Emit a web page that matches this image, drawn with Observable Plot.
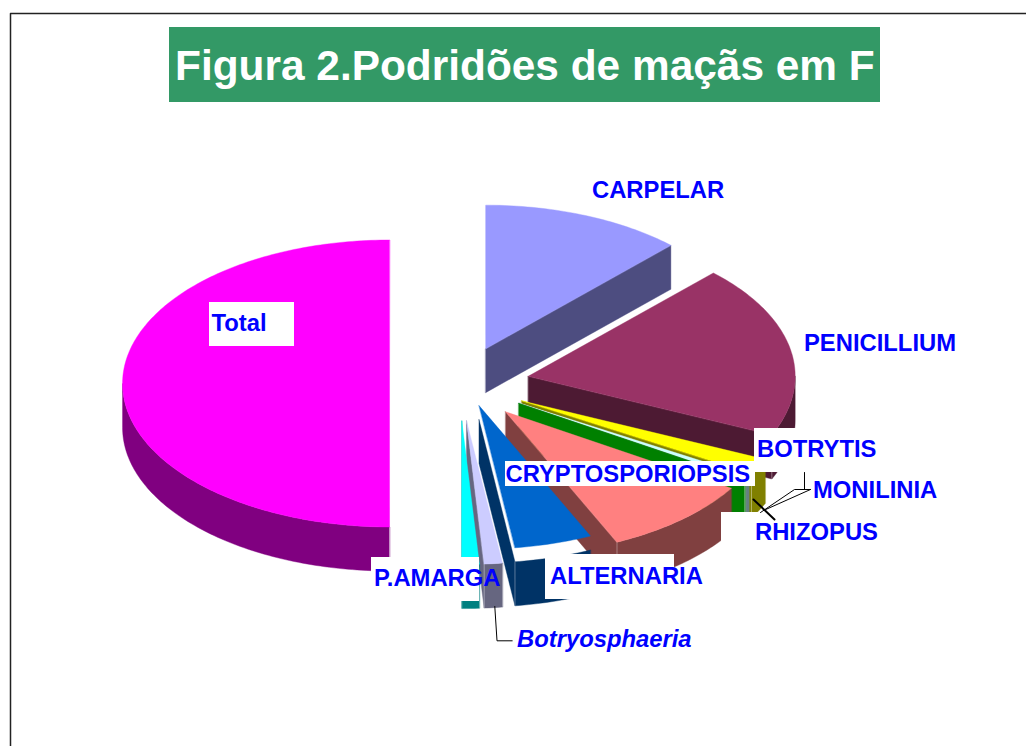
<!DOCTYPE html>
<html>
<head>
<meta charset="utf-8">
<style>html,body{margin:0;padding:0;background:#fff}svg{display:block}</style>
<script src="https://cdn.jsdelivr.net/npm/d3@7"></script>
<script src="https://cdn.jsdelivr.net/npm/@observablehq/plot@0.6"></script>
</head>
<body>
<div id="chart"></div>
<script>
// Slices, clockwise from 12 o'clock (share of the whole pie, %)
const names = ["CARPELAR","PENICILLIUM","BOTRYTIS","RHIZOPUS","MONILINIA","CRYPTOSPORIOPSIS","ALTERNARIA","Botryosphaeria","P.AMARGA","Total"];
const shares = [12.2,19.5,1.8,0.4,0.05,9.2,4.7,1.1,1.05,50];
const topColors = ["#9999FF","#993366","#FFFF00","#CCFFFF","#008000","#FF8080","#0066CC","#CCCCFF","#00FFFF","#FF00FF"];
const wallColors = ["#4D4D80","#4D1A33","#808000","#668080","#008000","#804040","#003366","#666680","#008080","#800080"];
const lifted = ["ALTERNARIA"];

// Chart text
const titleText = "Figura 2.Podridões de maçãs em F";
const labelTexts = ["CARPELAR","PENICILLIUM","BOTRYTIS","CRYPTOSPORIOPSIS","MONILINIA","RHIZOPUS","ALTERNARIA","P.AMARGA","Total","Botryosphaeria"];
const labelX = [591.5,803.5,756.5,505,812.5,754.5,549.5,373.5,211,516.5];
const labelY = [197,350,456,481,497,539,583,585,330,646];
// White label backgrounds [x1,x2,y1,y2]
const boxes = [[209,294,302,346],[754,885,428,472],[505,755,461,486],[721,885,512,552],[545,674,554,599],[371,479,557,601]];
// Leader lines
const leaders = [
  {w:1,pts:[[494.3,606],[496.5,640.3],[511.7,640.3]]},
  {w:1,pts:[[804,472],[804,489]]},
  {w:1,pts:[[810,489],[794,489],[760,512]]},
  {w:1,pts:[[810,489],[763,510]]},
  {w:2,pts:[[753,499],[774,519]]}
];

const W = 1026, H = 746;
const cx = 459, cy = 383, rx = 267, ry = 143.5;   // pie geometry
const explode = 0.262, depth = 44 / ry, lift = 14 / ry;
const X = p => (p - cx) / rx, Y = p => (p - cy) / ry;
const rad = d => d * Math.PI / 180;

const total = d3.sum(shares);
let acc = 0;
const slices = names.map((name, i) => {
  const a0 = acc; acc += shares[i] / total * 360; const a1 = acc;
  const mid = (a0 + a1) / 2;
  return {name, a0, a1, top: topColors[i], wall: wallColors[i],
          ax: explode * Math.sin(rad(mid)), ay: -explode * Math.cos(rad(mid)),
          lift: lifted.includes(name) ? lift : 0};
});
const rim = (s, a, dy = 0) => ({x: s.ax + Math.sin(rad(a)), y: s.ay - Math.cos(rad(a)) + dy});
const arc = (s, a0, a1, dy = 0) => {
  const n = Math.max(1, Math.ceil(Math.abs(a1 - a0)));
  return d3.range(n + 1).map(k => rim(s, a0 + (a1 - a0) * k / n, dy));
};
const poly = (pts, fill) => Plot.line(pts, {x: "x", y: "y", fill, stroke: fill, strokeWidth: 0.4, curve: "linear-closed"});

const marks = [];
// Border
marks.push(Plot.line([[10,746],[10,13],[1026,13]].map(([a,b]) => ({x: X(a), y: Y(b)})), {x:"x", y:"y", stroke:"#222", strokeWidth:1.5}));

for (const s of slices) {
  // end wall (apex to rim), only where it faces the viewer
  if (s.a1 <= 180) {
    marks.push(poly([{x:s.ax,y:s.ay}, rim(s,s.a1), rim(s,s.a1,depth), {x:s.ax,y:s.ay+depth}], s.wall));
  }
  // rim wall
  const v0 = Math.max(s.a0, 90), v1 = Math.min(s.a1, 270);
  if (v1 > v0) {
    marks.push(poly([...arc(s, v0, v1), ...arc(s, v1, v0, depth)], s.wall));
  }
  // seam
  const seamA = s.a1 <= 180 ? s.a1 : s.a0;
  if (seamA >= 90 && seamA <= 180) {
    marks.push(Plot.line([rim(s,seamA), rim(s,seamA,depth)], {x:"x", y:"y", stroke:"#fff", strokeOpacity:0.35, strokeWidth:1}));
  }
  // top face
  marks.push(poly([{x:s.ax,y:s.ay - s.lift}, ...arc(s, s.a0, s.a1, -s.lift)], s.top));
}

// Title band
marks.push(Plot.rect([{x1:X(169),x2:X(880),y1:Y(27),y2:Y(102)}], {x1:"x1",x2:"x2",y1:"y1",y2:"y2",fill:"#339966"}));
marks.push(Plot.text([titleText], {x:X(174.5), y:Y(79), text:d=>d, textAnchor:"start", lineAnchor:"bottom", fill:"#fff", fontSize:42.4, fontWeight:"bold"}));

// Label backgrounds
marks.push(Plot.rect(boxes.map(b => ({x1:X(b[0]),x2:X(b[1]),y1:Y(b[2]),y2:Y(b[3])})), {x1:"x1",x2:"x2",y1:"y1",y2:"y2",fill:"#fff"}));

// Leaders
for (const l of leaders) {
  marks.push(Plot.line(l.pts.map(([a,b]) => ({x:X(a),y:Y(b)})), {x:"x",y:"y",stroke:"#000",strokeWidth:l.w}));
}

// Labels
const labels = labelTexts.map((t,i) => ({t, x:X(labelX[i]), y:Y(labelY[i])}));
marks.push(Plot.text(labels.filter(d=>d.t!=="Botryosphaeria"), {x:"x",y:"y",text:"t",textAnchor:"start",lineAnchor:"bottom",fill:"#0000FF",fontSize:23.8,fontWeight:"bold"}));
marks.push(Plot.text(labels.filter(d=>d.t==="Botryosphaeria"), {x:"x",y:"y",text:"t",textAnchor:"start",lineAnchor:"bottom",fill:"#0000FF",fontSize:23.8,fontWeight:"bold",fontStyle:"italic"}));

const chart = Plot.plot({
  width: W, height: H, margin: 0,
  style: {fontFamily: "'Liberation Sans', Arial, sans-serif", background: "#fff"},
  x: {domain: [X(0), X(W)], range: [0, W], axis: null},
  y: {domain: [Y(0), Y(H)], range: [0, H], axis: null},
  marks
});
document.getElementById("chart").append(chart);
</script>
</body>
</html>
